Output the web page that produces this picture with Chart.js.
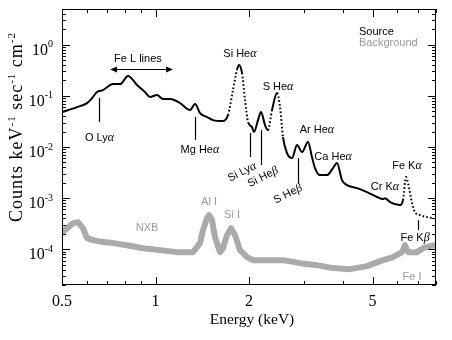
<!DOCTYPE html>
<html><head><meta charset="utf-8">
<script src="https://cdn.jsdelivr.net/npm/chart.js@4.4.0/dist/chart.umd.min.js"></script>
<style>html,body{margin:0;padding:0;background:#fff;}canvas{display:block;}</style>
</head><body>
<canvas id="c" width="452" height="340"></canvas>
<script>
// ---- data ----
const sourceEnergy = [0.50,0.559,0.602,0.625,0.648,0.678,0.730,0.769,0.816,0.872,0.925,0.960,1.011,1.057,1.114,1.199,1.292,1.341,1.391,1.465,1.531,1.649,1.712,1.776,1.829,1.857,1.899,1.942,1.986,2.045,2.075,2.138,2.186,2.252,2.302,2.372,2.462,2.517,2.573,2.651,2.752,2.855,2.963,3.097,3.190,3.262,3.385,3.566,3.728,3.840,3.985,4.136,4.455,4.797,5.167,5.402,5.482,5.689,6.126,6.264,6.406,6.502,6.697,6.847,7.105,7.483,7.823];
const sourceCounts = [0.0482,0.0604,0.0723,0.0906,0.119,0.130,0.170,0.170,0.244,0.163,0.119,0.0948,0.104,0.0867,0.0867,0.0723,0.0528,0.0692,0.0461,0.0385,0.0336,0.0321,0.0422,0.130,0.320,0.401,0.280,0.0828,0.0308,0.0245,0.0196,0.0336,0.0482,0.0269,0.0214,0.0528,0.1135,0.0604,0.0156,0.0076,0.00607,0.0109,0.00796,0.01248,0.00635,0.00386,0.00282,0.00282,0.00386,0.00484,0.00225,0.00180,0.00157,0.00131,0.00105,0.000957,0.00100,0.000836,0.000730,0.000914,0.00258,0.00197,0.000800,0.000532,0.000465,0.000425,0.000406];
const bgEnergy = [0.50,0.519,0.543,0.563,0.584,0.602,0.629,0.678,0.730,0.810,0.912,1.034,1.173,1.320,1.391,1.422,1.465,1.487,1.520,1.554,1.613,1.649,1.699,1.750,1.803,1.871,1.971,2.060,2.286,2.573,2.919,3.311,3.728,4.230,4.797,5.402,5.818,6.219,6.358,6.502,6.950,7.265,7.652,7.943];
const bgCounts = [2.07e-4,2.59e-4,3.24e-4,3.39e-4,2.59e-4,1.65e-4,1.51e-4,1.38e-4,1.32e-4,1.20e-4,1.05e-4,9.61e-5,8.79e-5,8.79e-5,1.32e-4,2.37e-4,4.06e-4,4.65e-4,3.72e-4,1.73e-4,8.79e-5,1.05e-4,1.89e-4,2.59e-4,1.89e-4,9.61e-5,7.01e-5,6.12e-5,6.12e-5,6.12e-5,5.35e-5,4.89e-5,4.28e-5,4.08e-5,4.68e-5,6.12e-5,7.01e-5,8.79e-5,1.20e-4,8.79e-5,8.79e-5,1.05e-4,1.15e-4,1.20e-4];
const xTickLabels = [0.5, 1, 2, 5];
const yTickPowers = [0, -1, -2, -3, -4];
const seriesNames = ['Source', 'Background'];

// line identifications (text, energy keV, level)
const lineNames  = ['Fe L lines','O Ly\u03b1','Mg He\u03b1','Si He\u03b1','S He\u03b1','Si Ly\u03b1','Si He\u03b2','S He\u03b2','Ar He\u03b1','Ca He\u03b1','Cr K\u03b1','Fe K\u03b1','Fe K\u03b2','NXB','Al I','Si I','Fe I'];
const lineEnergy = [0.878,0.66,1.39,1.87,2.48,1.90,2.22,2.671,3.31,3.73,5.48,6.45,6.85,0.939,1.487,1.763,6.70];
const lineLevel  = [0.526,0.0150,0.0087,0.658,0.149,0.00323,0.00258,0.0012,0.0214,0.00635,0.00164,0.00423,0.000165,0.000259,0.000836,0.000465,0.0000285];
const lineIsBg   = [0,0,0,0,0,0,0,0,0,0,0,0,0,1,1,1,1];
const lineTilted = [0,0,0,0,0,1,1,1,0,0,0,0,0,0,0,0,0];
// marker sticks (energy, upper level, lower level)
const stickEnergy = [0.658,1.34,2.015,2.186,2.876,7.00];
const stickTop    = [0.0906,0.0385,0.0187,0.0214,0.00607,0.000372];
const stickBottom = [0.0307,0.0137,0.00635,0.00443,0.00197,0.000237];
const arrowRange = [0.714, 1.139];
const arrowLevel = 0.335;

const BLACK = '#000', GREY = '#aaaaaa', GREYTXT = '#9a9a9a';
const SANS = '"Liberation Sans", Arial, sans-serif';
const SERIF = '"Liberation Serif", "Times New Roman", serif';

function toXY(xs, ys){ return xs.map((v,i)=>({x:v, y:ys[i]})); }

function splitGreek(t){
  const out=[]; let cur='', g=null;
  for (const ch of t){ const isG=/[\u03b1\u03b2]/.test(ch);
    if (g===null) g=isG;
    if (isG!==g){ out.push([cur,g]); cur=''; g=isG; }
    cur+=ch; }
  if (cur) out.push([cur,g]);
  return out;
}
function drawLabel(ctx, text, x, y, color, rot){
  const parts = splitGreek(text);
  const fN = '11px '+SANS, fG = 'italic 12px '+SERIF;
  let w=0; parts.forEach(p=>{ ctx.font=p[1]?fG:fN; w+=ctx.measureText(p[0]).width; });
  ctx.save(); ctx.translate(x,y); if (rot) ctx.rotate(rot*Math.PI/180);
  ctx.fillStyle=color; ctx.textBaseline='middle'; ctx.textAlign='left';
  let cx=-w/2;
  parts.forEach(p=>{ ctx.font=p[1]?fG:fN; ctx.fillText(p[0],cx,0); cx+=ctx.measureText(p[0]).width; });
  ctx.restore();
}

const framePlugin = {
  id:'frame',
  afterDraw(chart){
    const {ctx, chartArea:a, scales:{x,y}} = chart;
    ctx.save();
    ctx.strokeStyle=BLACK; ctx.lineWidth=1;
    ctx.strokeRect(a.left+0.5, a.top+0.5, a.right-a.left-1, a.bottom-a.top-1);
    ctx.beginPath();
    const xv=[]; for (let m=5;m<=9;m++) xv.push(m/10); for (let m=1;m<=8;m++) xv.push(m);
    xv.forEach(v=>{ const px=Math.round(x.getPixelForValue(v))+0.5;
      const len = xTickLabels.includes(v)?8:4;
      ctx.moveTo(px,a.bottom); ctx.lineTo(px,a.bottom-len);
      ctx.moveTo(px,a.top); ctx.lineTo(px,a.top+len); });
    for (let n=-5;n<=0;n++) for (let m=1;m<=9;m++){
      const v=m*Math.pow(10,n); if (v<y.min||v>y.max) continue;
      const py=Math.round(y.getPixelForValue(v))+0.5; const len = m===1?8:4;
      ctx.moveTo(a.left,py); ctx.lineTo(a.left+len,py);
      ctx.moveTo(a.right,py); ctx.lineTo(a.right-len,py); }
    ctx.stroke();
    // x tick labels and title
    ctx.fillStyle=BLACK; ctx.font='16px '+SERIF; ctx.textAlign='center'; ctx.textBaseline='middle';
    xTickLabels.forEach(v=>ctx.fillText(String(v), x.getPixelForValue(v), a.bottom+17));
    ctx.font='15.5px '+SERIF;
    ctx.fillText('Energy (keV)', (a.left+a.right)/2+3, a.bottom+35);
    // y tick labels with superscripts
    yTickPowers.forEach(p=>{
      const py=y.getPixelForValue(Math.pow(10,p))+6;
      const sup=String(p);
      ctx.font='10px '+SERIF; const sw=ctx.measureText(sup).width;
      ctx.font='16px '+SERIF; ctx.textAlign='right'; ctx.textBaseline='middle';
      const right=a.left-9;
      ctx.fillText('10', right-sw, py);
      ctx.font='10px '+SERIF; ctx.textAlign='left';
      ctx.fillText(sup, right-sw, py-6);
    });
    // y title
    ctx.save(); ctx.translate(17, (a.top+a.bottom)/2-20); ctx.rotate(-Math.PI/2);
    try { ctx.letterSpacing='1px'; } catch(e){}
    const runs=[['Counts keV',0],['-1',1],[' sec',0],['-1',1],[' cm',0],['-2',1]];
    const fM='18px '+SERIF, fS='11px '+SERIF;
    let tw=0; runs.forEach(r=>{ ctx.font=r[1]?fS:fM; tw+=ctx.measureText(r[0]).width; });
    let cx=-tw/2; ctx.textAlign='left'; ctx.textBaseline='alphabetic';
    runs.forEach(r=>{ ctx.font=r[1]?fS:fM; ctx.fillText(r[0],cx,r[1]?-2:5); cx+=ctx.measureText(r[0]).width; });
    ctx.restore();
    // sticks
    ctx.beginPath(); ctx.lineWidth=1.2;
    stickEnergy.forEach((e,i)=>{ const px=Math.round(x.getPixelForValue(e))+0.5;
      ctx.moveTo(px,y.getPixelForValue(stickTop[i])); ctx.lineTo(px,y.getPixelForValue(stickBottom[i])); });
    ctx.stroke();
    // Fe L arrow
    const ax1=x.getPixelForValue(arrowRange[0]), ax2=x.getPixelForValue(arrowRange[1]), ay=Math.round(y.getPixelForValue(arrowLevel))+0.5;
    ctx.beginPath(); ctx.lineWidth=1.2; ctx.moveTo(ax1+4,ay); ctx.lineTo(ax2-4,ay); ctx.stroke();
    ctx.beginPath(); ctx.moveTo(ax1,ay); ctx.lineTo(ax1+7,ay-3); ctx.lineTo(ax1+7,ay+3); ctx.closePath();
    ctx.moveTo(ax2,ay); ctx.lineTo(ax2-7,ay-3); ctx.lineTo(ax2-7,ay+3); ctx.closePath(); ctx.fill();
    // labels
    lineNames.forEach((t,i)=>drawLabel(ctx,t,x.getPixelForValue(lineEnergy[i]),y.getPixelForValue(lineLevel[i]),
      lineIsBg[i]?GREYTXT:BLACK, lineTilted[i]?-27:0));
    // legend text
    ctx.font='11px '+SANS; ctx.textAlign='left'; ctx.textBaseline='middle';
    ctx.fillStyle=BLACK; ctx.fillText(seriesNames[0], a.right-77, a.top+23);
    ctx.fillStyle=GREYTXT; ctx.fillText(seriesNames[1], a.right-77, a.top+34);
    ctx.restore();
  }
};

new Chart(document.getElementById('c'), {
  type:'scatter',
  data:{ datasets:[
    { label:seriesNames[1], data:toXY(bgEnergy,bgCounts), showLine:true, borderColor:GREY, backgroundColor:GREY,
      borderWidth:6, pointRadius:0, borderJoinStyle:'round', borderCapStyle:'round', tension:0 },
    { label:seriesNames[0], data:toXY(sourceEnergy,sourceCounts), showLine:true, borderColor:BLACK, backgroundColor:BLACK,
      borderWidth:2, pointRadius:0, cubicInterpolationMode:'monotone',
      segment:{ borderDash: c => {
        const dx=Math.max(c.p1.x-c.p0.x,0.01), dy=Math.abs(c.p1.y-c.p0.y);
        return (dy/dx>4.5 || c.p0.parsed.x>6.2) ? [1.6,2.2] : undefined; } } }
  ]},
  options:{
    responsive:false, animation:false, devicePixelRatio:1,
    layout:{ padding:{ left:62, right:16, top:9, bottom:55 } },
    scales:{
      x:{ type:'logarithmic', min:0.5, max:8, display:false },
      y:{ type:'logarithmic', min:2e-5, max:5, display:false }
    },
    plugins:{ legend:{display:false}, tooltip:{enabled:false} }
  },
  plugins:[framePlugin]
});
</script>
</body></html>
